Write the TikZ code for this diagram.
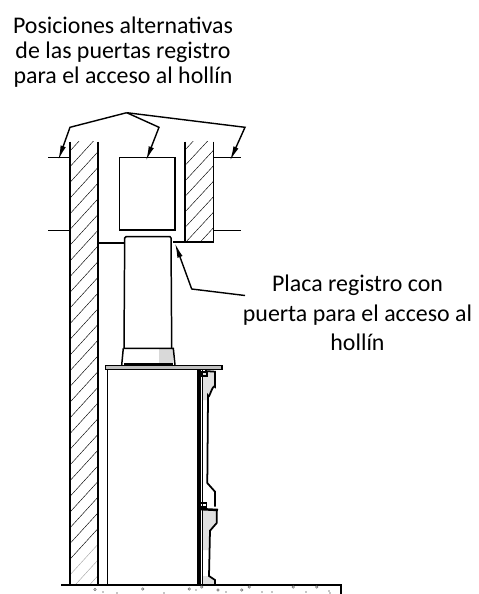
\documentclass[tikz,border=0pt]{standalone}
\usepackage{fontspec}
\setmainfont{Carlito}
\usetikzlibrary{arrows.meta}
\tikzset{
label text/.style={font=\fontsize{13.6}{14.2}\selectfont,align=center,inner sep=0pt},
wall/.style={line width=0.85pt},
hatch/.style={line width=0.25pt},
leader/.style={line width=0.8pt,-{Latex[length=2.9mm,width=1.1mm]}},
}
\begin{document}
\begin{tikzpicture}[x=0.02cm,y=-0.02cm]
\useasboundingbox (0,0) rectangle (479,594);
\node[label text](Posiciones)at(123,52){Posiciones alternativas\\de las puertas registro\\para el acceso al hollín};
\node[label text](Placa)at(357.5,313){Placa registro con\\[2.5pt]puerta para el acceso al\\[2.5pt]hollín};

%%hatching
\begin{scope}
\clip(70,141.7)rectangle(98,585);
\foreach \k in {0,...,30}{
\pgfmathsetmacro{\hy}{151+15.7*\k}
\ifnum\k<27
\draw[hatch](70,\hy)--++(28.3,-31);
\else
\draw[hatch,black!35](70,\hy)--++(28.3,-31);
\fi}
\end{scope}
\begin{scope}
\clip(185,141.7)rectangle(213.7,242);
\foreach \k in {0,...,9}{
\pgfmathsetmacro{\hy}{150+15.5*\k}
\draw[hatch](185,\hy)--++(28.7,-31);}
\end{scope}

%%walls
\draw[wall](70,141.7)--(70,585);
\draw[wall,line width=1.2pt](98.3,141.7)--(98.3,585);
\draw[wall,line width=1.1pt](185,141.7)--(185,242);
\draw[wall](213.7,141.7)--(213.7,242);
\draw[wall](173.3,242)--(213.7,242);
\draw[wall,line width=1.3pt](185,242)--(205,242);
\foreach \y in {157.7,230.3}{
\draw[wall](48.3,\y)--(70,\y);
\draw[wall](213.7,\y)--(241,\y);}

%%door and flue
\draw[wall](119.3,157.3)rectangle(175,230);
\draw[wall,line width=1.1pt](98.3,242.7)--(124.7,242.7);
\draw[wall](124,348.3)--(124.7,238)--(126,236.7)--(170,236.7)--(171,238)--(171.7,348.3);
\fill[black!15](159.3,349)rectangle(173,363);
\draw[wall](123.3,348.3)--(173.3,348.3)--(175,365);
\draw[wall](123.3,348.3)--(121.7,365);
\draw[wall,line width=1.4pt](124,364.5)--(173,364.5);

%%stove
\draw[wall,fill=black!25](105.3,365.7)rectangle(222,369.3);
\draw[wall,line width=0.5pt](107.5,369.3)--(107.5,585);
\fill[black!12](202.7,371)--(215,371.7)--(215,387)--(208.3,395)--(207.3,400)--(202.7,400)--cycle;
\fill[black!12](202.7,510)--(216.7,510)--(216.7,523)--(210,530.7)--(208.5,550)--(202.7,550)--cycle;
\fill[black!12](202.7,576)--(209,576)--(215,580)--(215,585)--(202.7,585)--cycle;
\draw[line width=1.9pt](199,369.3)--(199,585);
\draw[line width=0.6pt](202.7,369.3)--(202.7,585);
\draw[line width=1pt](205,371)--(215,371.7)--(215,387)to[out=120,in=-80](208,396)--(207.3,483)--(215,491.7)--(215,506.7);
\draw[line width=1pt](216.7,511)--(216.7,523)--(210,530.7)--(209,576)--(215,580)--(215,585);
\draw[line width=0.8pt](202,372)rectangle(207,376);
\draw[line width=0.8pt](200,503)rectangle(206.7,507);
\draw[line width=1.4pt](198,509)--(218,510);

%%floor
\draw[wall](61,585)--(341,585)--(341,594);
\foreach \x/\y in {95/589.5,142.7/589,189.3/589,201.7/587,218/590,241.7/590,249.3/587,293.3/587,316.7/587}
\draw[line width=0.3pt,black!60](\x,\y)circle(1.2);
\foreach \x/\y in {103/592,117/593,164/593,196/590,226/592,262/592,272/592,306/592,329/591,330/593}
\fill[black!45](\x,\y)circle(0.8);

%%arrows
\coordinate(Apex)at(126.7,112.7);
\coordinate(BendL)at(70,127.3);
\coordinate(BendM)at(159,127.3);
\coordinate(BendR)at(245,127.3);
\coordinate(TipL)at(58.3,160);
\coordinate(TipM)at(146,160.7);
\coordinate(TipR)at(230,160.7);
\coordinate(TipP)at(175,243.3);
\coordinate(BendP)at(191.7,289);
\coordinate(EndP)at(245,295.5);
\draw[leader](Apex)--(BendL)--(TipL);
\draw[leader](Apex)--(BendM)--(TipM);
\draw[leader](Apex)--(BendR)--(TipR);
\draw[leader](EndP)--(BendP)--(TipP);
\end{tikzpicture}
\end{document}
